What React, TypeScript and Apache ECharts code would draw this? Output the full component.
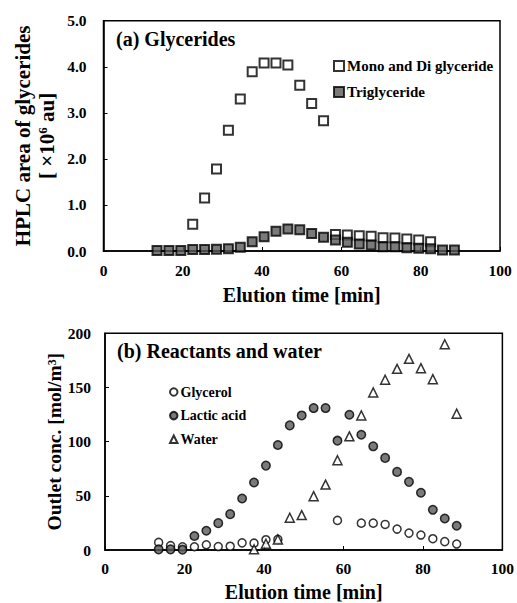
import { useEffect, useRef } from "react";
import * as echarts from "echarts";

const FONT = "'Liberation Serif', 'Times New Roman', serif";

// (a) Glycerides
const monoTimes = [22.5, 25.5, 28.5, 31.5, 34.5, 37.5, 40.5, 43.5, 46.5, 49.5, 52.5, 55.5, 58.5, 61.5, 64.5, 67.5, 70.5, 73.5, 76.5, 79.5, 82.5];
const monoValues = [0.58, 1.15, 1.78, 2.62, 3.3, 3.89, 4.08, 4.08, 4.04, 3.6, 3.2, 2.83, 0.36, 0.35, 0.33, 0.32, 0.29, 0.28, 0.26, 0.24, 0.2];
const triTimes = [13.5, 16.5, 19.5, 22.5, 25.5, 28.5, 31.5, 34.5, 37.5, 40.5, 43.5, 46.5, 49.5, 52.5, 55.5, 58.5, 61.5, 64.5, 67.5, 70.5, 73.5, 76.5, 79.5, 82.5, 85.5, 88.5];
const triValues = [0.01, 0.01, 0.01, 0.03, 0.03, 0.04, 0.05, 0.08, 0.2, 0.31, 0.43, 0.48, 0.46, 0.38, 0.3, 0.24, 0.19, 0.15, 0.13, 0.09, 0.09, 0.07, 0.06, 0.05, 0.02, 0.02];

// (b) Reactants and water
const glycerolTimes = [13.5, 16.5, 19.5, 22.5, 25.5, 28.5, 31.5, 34.5, 37.5, 40.5, 43.5, 58.5, 64.5, 67.5, 70.5, 73.5, 76.5, 79.5, 82.5, 85.5, 88.5];
const glycerolValues = [7.0, 4.0, 3.0, 3.0, 4.8, 3.2, 3.5, 6.6, 6.3, 9.5, 9.8, 27.3, 24.8, 24.8, 23.6, 19.3, 15.6, 13.8, 10.4, 7.7, 5.5];
const lacticTimes = [13.5, 16.5, 19.5, 22.5, 25.5, 28.5, 31.5, 34.5, 37.5, 40.5, 43.5, 46.5, 49.5, 52.5, 55.5, 58.5, 61.5, 64.5, 67.5, 70.5, 73.5, 76.5, 79.5, 82.5, 85.5, 88.5];
const lacticValues = [0.6, 0.6, 0.3, 12.9, 17.8, 24.8, 33.1, 47.5, 62.3, 77.9, 96.9, 115.0, 124.2, 131.0, 131.0, 100.9, 124.8, 106.4, 95.7, 85.0, 72.1, 62.9, 52.8, 37.1, 29.1, 22.4];
const waterTimes = [37.5, 40.5, 43.5, 46.5, 49.5, 52.5, 55.5, 58.5, 61.5, 64.5, 67.5, 70.5, 73.5, 76.5, 79.5, 82.5, 85.5, 88.5];
const waterValues = [0.6, 5.8, 9.8, 29.8, 32.2, 49.7, 60.4, 82.8, 104.9, 124.2, 145.4, 157.1, 167.2, 176.4, 167.8, 157.7, 189.9, 125.8];

const xTicks = { min: 0, max: 100, interval: 20 };
const yTicksA = { min: 0, max: 5, interval: 1 };
const yTicksB = { min: 0, max: 200, interval: 50 };

const pairs = (xs: number[], ys: number[]) => xs.map((x, i) => [x, ys[i]]);

const baseText = { fontFamily: FONT, fontWeight: "bold" as const, color: "#000" };

function makeXAxis(gridIndex: number, nameGap: number, labelMargin: number) {
  return {
    type: "value",
    gridIndex,
    ...xTicks,
    name: "Elution time [min]",
    nameLocation: "middle",
    nameGap,
    nameMoveOverlap: false,
    nameTextStyle: { ...baseText, fontSize: 20 },
    axisLine: { show: true, lineStyle: { color: "#000", width: 1.5 } },
    axisTick: { show: true, inside: true, length: 4, lineStyle: { color: "#000", width: 1 } },
    axisLabel: { ...baseText, fontSize: 15.5, margin: labelMargin },
    splitLine: { show: false },
  };
}

export default function App() {
  const ref = useRef<HTMLDivElement>(null);
  useEffect(() => {
    if (!ref.current) return;
    const chart = echarts.init(ref.current, null, { renderer: "svg" });
    const option = {
      animation: false,
      backgroundColor: "#fff",
      textStyle: { fontFamily: FONT },
      title: [
        { text: "(a) Glycerides", left: 116, top: 29, padding: 0, textStyle: { ...baseText, fontSize: 20 } },
        { text: "(b) Reactants and water", left: 117, top: 341, padding: 0, textStyle: { ...baseText, fontSize: 20 } },
      ],
      legend: [
        {
          data: ["Mono and Di glyceride", "Triglyceride"],
          orient: "vertical",
          left: 333,
          top: 58.5,
          padding: 0,
          itemWidth: 10,
          itemHeight: 10,
          itemGap: 11,
          textStyle: { ...baseText, fontSize: 15, padding: [0, 0, 0, -2] },
        },
        {
          data: ["Glycerol", "Lactic acid", "Water"],
          orient: "vertical",
          left: 169,
          top: 385,
          padding: 0,
          itemWidth: 7.5,
          itemHeight: 7.5,
          itemGap: 9.6,
          textStyle: { ...baseText, fontSize: 14, padding: [0, 0, 0, -2] },
        },
      ],
      grid: [
        { left: 103.5, right: 17, top: 20.7, height: 230.3, show: true, borderColor: "#000", borderWidth: 1.5, containLabel: false },
        { left: 105, right: 14.3, top: 333.3, height: 217.4, show: true, borderColor: "#000", borderWidth: 1.5, containLabel: false },
      ],
      xAxis: [makeXAxis(0, 34, 11), makeXAxis(1, 32, 10)],
      yAxis: [
        {
          type: "value",
          gridIndex: 0,
          ...yTicksA,
          name: "{a|HPLC area of glycerides}\n{a|[ ×10}{s|6}{a| au]}",
          nameLocation: "middle",
          nameRotate: 90,
          nameGap: 44,
          nameMoveOverlap: false,
          nameTextStyle: {
            ...baseText,
            fontSize: 21,
            lineHeight: 24.5,
            rich: {
              a: { ...baseText, fontSize: 21, lineHeight: 24.5 },
              s: { ...baseText, fontSize: 13, lineHeight: 24.5, padding: [0, 0, 9, 0] },
            },
          },
          axisLine: { show: true, lineStyle: { color: "#000", width: 1.5 } },
          axisTick: { show: true, inside: true, length: 4, lineStyle: { color: "#000", width: 1 } },
          axisLabel: { ...baseText, fontSize: 15.5, margin: 17, formatter: (v: number) => v.toFixed(1) },
          splitLine: { show: false },
        },
        {
          type: "value",
          gridIndex: 1,
          ...yTicksB,
          name: "Outlet conc. [mol/m³]",
          nameLocation: "middle",
          nameRotate: 90,
          nameGap: 41,
          nameMoveOverlap: false,
          nameTextStyle: { ...baseText, fontSize: 19.5 },
          axisLine: { show: true, lineStyle: { color: "#000", width: 1.5 } },
          axisTick: { show: true, inside: true, length: 4, lineStyle: { color: "#000", width: 1 } },
          axisLabel: { ...baseText, fontSize: 15.5, margin: 14 },
          splitLine: { show: false },
        },
      ],
      series: [
        {
          name: "Mono and Di glyceride",
          type: "scatter",
          xAxisIndex: 0,
          yAxisIndex: 0,
          clip: false,
          symbol: "rect",
          symbolSize: 9,
          itemStyle: { color: "#fff", borderColor: "#000", borderWidth: 2 },
          data: pairs(monoTimes, monoValues),
        },
        {
          name: "Triglyceride",
          type: "scatter",
          xAxisIndex: 0,
          yAxisIndex: 0,
          clip: false,
          symbol: "rect",
          symbolSize: 9,
          itemStyle: { color: "#595959", borderColor: "#000", borderWidth: 2 },
          data: pairs(triTimes, triValues),
        },
        {
          name: "Glycerol",
          type: "scatter",
          xAxisIndex: 1,
          yAxisIndex: 1,
          clip: false,
          symbol: "circle",
          symbolSize: 8,
          itemStyle: { color: "#fff", borderColor: "#000", borderWidth: 1.5 },
          data: pairs(glycerolTimes, glycerolValues),
        },
        {
          name: "Lactic acid",
          type: "scatter",
          xAxisIndex: 1,
          yAxisIndex: 1,
          clip: false,
          symbol: "circle",
          symbolSize: 8.5,
          itemStyle: { color: "#595959", borderColor: "#000", borderWidth: 1.5 },
          data: pairs(lacticTimes, lacticValues),
        },
        {
          name: "Water",
          type: "scatter",
          xAxisIndex: 1,
          yAxisIndex: 1,
          clip: false,
          symbol: "triangle",
          symbolSize: 9,
          itemStyle: { color: "#fff", borderColor: "#000", borderWidth: 1.5 },
          data: pairs(waterTimes, waterValues),
        },
      ],
    };
    chart.setOption(option as any);
    return () => chart.dispose();
  }, []);
  return (
    <div
      ref={ref}
      style={{ position: "absolute", left: 0, top: 0, width: 517, height: 603, background: "#fff" }}
    />
  );
}
